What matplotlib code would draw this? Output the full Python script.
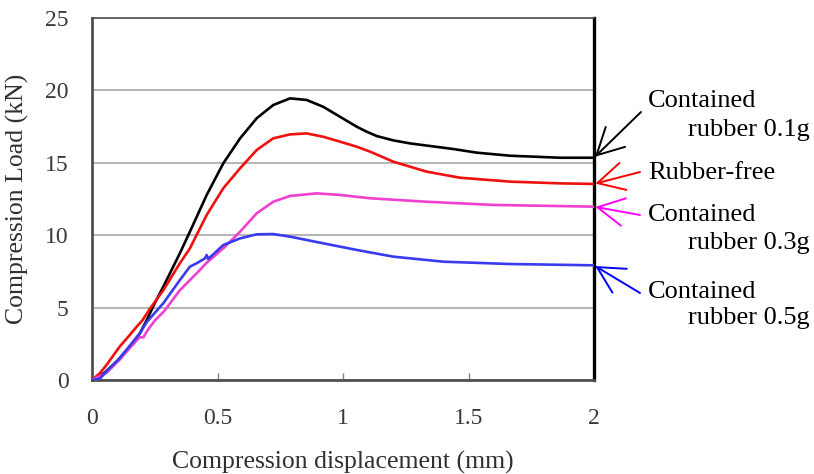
import numpy as np
import matplotlib
matplotlib.use("Agg")
import matplotlib.pyplot as plt

plt.rcParams['font.family'] = ['Liberation Serif', 'DejaVu Serif']

# Compression displacement (mm) / load (kN)
x_free = [0, 0.032, 0.058, 0.11, 0.15, 0.178, 0.2, 0.23, 0.284, 0.35, 0.39, 0.457, 0.523,
          0.59, 0.656, 0.722, 0.789, 0.855, 0.921, 0.988, 1.055, 1.108, 1.2, 1.333,
          1.466, 1.665, 1.865, 2.0]
y_free = [0, 0.48, 1.04, 2.3, 3.1, 3.68, 4.1, 4.9, 6.2, 8.06, 9.09, 11.4, 13.24,
          14.62, 15.88, 16.69, 16.96, 17.03, 16.8, 16.46, 16.11, 15.77, 15.08, 14.39,
          13.97, 13.7, 13.58, 13.54]

x_01 = [0, 0.05, 0.1, 0.15, 0.19, 0.218, 0.25, 0.284, 0.35, 0.39, 0.457, 0.523, 0.59,
        0.656, 0.722, 0.789, 0.855, 0.921, 0.988, 1.055, 1.094, 1.134, 1.2, 1.267, 1.44,
        1.533, 1.665, 1.865, 2.0]
y_01 = [0, 0.5, 1.3, 2.3, 3.2, 4.14, 5.3, 6.44, 8.75, 10.24, 12.78, 14.96, 16.69,
        18.07, 18.99, 19.45, 19.34, 18.87, 18.18, 17.49, 17.15, 16.85, 16.55, 16.34, 15.95,
        15.7, 15.49, 15.35, 15.35]

x_03 = [0, 0.058, 0.11, 0.15, 0.19, 0.205, 0.22, 0.25, 0.29, 0.35, 0.39, 0.43, 0.457,
        0.523, 0.59, 0.656, 0.722, 0.789, 0.895, 0.988, 1.108, 1.333, 1.6, 2.0]
y_03 = [0, 0.5, 1.4, 2.2, 2.95, 2.95, 3.4, 4.1, 4.8, 6.2, 6.9, 7.6, 8.1,
        9.09, 10.24, 11.51, 12.31, 12.71, 12.89, 12.78, 12.55, 12.31, 12.09, 11.97]

x_05 = [0, 0.032, 0.058, 0.11, 0.138, 0.19, 0.218, 0.284, 0.35, 0.39, 0.417, 0.45, 0.457,
        0.463, 0.523, 0.59, 0.656, 0.722, 0.789, 0.921, 1.055, 1.2, 1.4, 1.665, 2.0]
y_05 = [0, 0.1, 0.6, 1.5, 2.1, 3.2, 4.0, 5.3, 6.9, 7.83, 8.06, 8.4, 8.63,
        8.36, 9.32, 9.78, 10.06, 10.08, 9.9, 9.44, 8.98, 8.52, 8.17, 8.01, 7.92]

series = [
    (x_01, y_01, "black", "black"),
    (x_free, y_free, "#f01010", "#ff0000"),
    (x_03, y_03, "#f040d0", "#ff00ff"),
    (x_05, y_05, "#3a3af0", "#0000ff"),
]
# (first line, second line) of each callout
callouts = [("Contained", "rubber 0.1g"), ("Rubber-free", None),
            ("Contained", "rubber 0.3g"), ("Contained", "rubber 0.5g")]

fig = plt.figure(figsize=(8.14, 4.74), dpi=100)
ax = fig.add_axes([92 / 814, 94 / 474, 502 / 814, 362 / 474])

for xs, ys, c, _ in series:
    ax.plot(xs, ys, color=c, lw=1.9, zorder=3, solid_joinstyle="round")

ax.set_xlim(0, 2)
ax.set_ylim(0, 25)
ax.set_xticks([0, 0.5, 1, 1.5, 2])
ax.set_xticklabels(["0", "0.5", "1", "1.5", "2"])
ax.set_yticks([0, 5, 10, 15, 20, 25])
ax.yaxis.grid(True, color="#a8a8a8", lw=1.2)
ax.set_axisbelow(True)
ax.tick_params(axis="x", direction="in", length=5, width=1, color="#808080",
               labelsize=17, pad=20)
ax.tick_params(axis="y", length=0, labelsize=17, pad=17)
for lab in ax.get_xticklabels() + ax.get_yticklabels():
    lab.set_color("#383838")

for side in ["left", "bottom"]:
    ax.spines[side].set_color("#505050")
    ax.spines[side].set_linewidth(2)
ax.spines["top"].set_color("#505050")
ax.spines["top"].set_linewidth(1.2)
ax.spines["right"].set_color("black")
ax.spines["right"].set_linewidth(2.4)

ax.set_xlabel("Compression displacement (mm)", fontsize=18.5, color="#303030", labelpad=16)
ax.set_ylabel("Compression Load (kN)", fontsize=18.5, color="#303030", labelpad=11)

# arrows pointing at curve ends
tails = [(641, 362), (640, 302), (640, 259), (640, 181)]
for (xs, ys, _, ac), tail in zip(series, tails):
    ax.annotate("", xy=(xs[-1], ys[-1]), xycoords="data",
                xytext=tail, textcoords="figure pixels",
                arrowprops=dict(arrowstyle="->, head_length=0.95, head_width=0.5",
                                color=ac, lw=1.4, mutation_scale=20,
                                shrinkA=0, shrinkB=1),
                annotation_clip=False)

line_y = [(373, 344), (301, None), (259, 231), (182, 156)]
for (l1, l2), (y1, y2) in zip(callouts, line_y):
    fig.text(648 / 814, y1 / 474, l1, fontsize=19, ha="left", va="center")
    if l2:
        fig.text(810 / 814, y2 / 474, l2, fontsize=19, ha="right", va="center")

fig.savefig("out.png", dpi=100)
